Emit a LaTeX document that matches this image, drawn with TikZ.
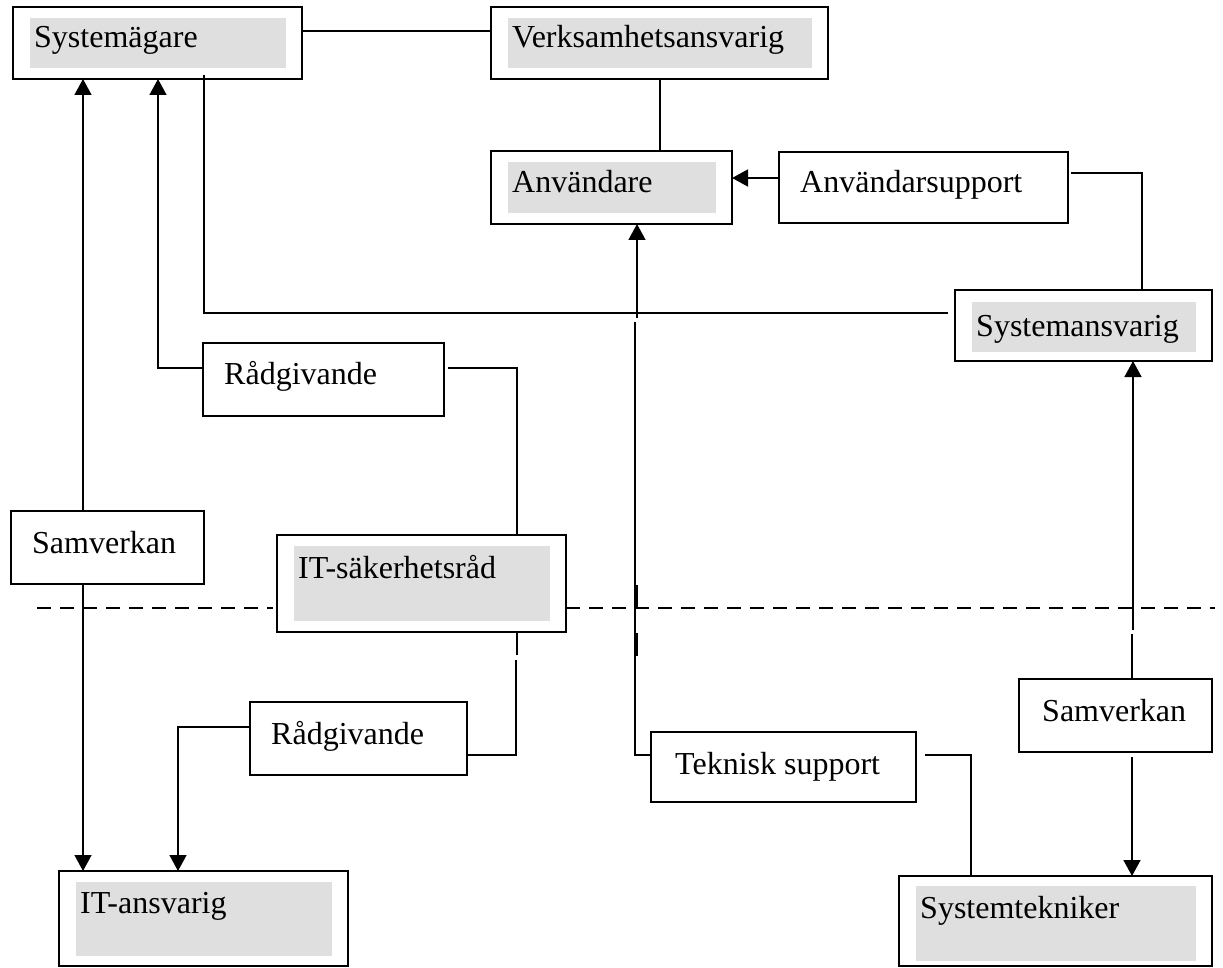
\documentclass[tikz,border=0pt]{standalone}
\usepackage{fontspec}
\setmainfont{Liberation Serif}
\usetikzlibrary{arrows.meta,calc}
\definecolor{boxgray}{HTML}{DFDFDF}
\begin{document}
\begin{tikzpicture}[x=1pt,y=-1pt,
  frame/.style={draw,line width=1.5pt,inner sep=0pt,outer sep=0pt,anchor=north west},
  lbl/.style={anchor=base west,inner sep=0pt,font=\fontsize{32}{38}\selectfont},
  conn/.style={line width=1.5pt},
  arr/.style={conn,-{Triangle[width=17pt,length=16pt]}},
  sepline/.style={line width=1.5pt,dash pattern=on 14pt off 9pt}]
\useasboundingbox (0,0) rectangle (1223,968);

% boxes
\node[frame,minimum width=289pt,minimum height=72pt] (sm)  at (13,7) {};
\node[frame,minimum width=337pt,minimum height=72pt] (va)  at (491,7) {};
\node[frame,minimum width=241pt,minimum height=73pt] (anv) at (491,151) {};
\node[frame,minimum width=289pt,minimum height=71pt] (as)  at (779,152) {};
\node[frame,minimum width=257pt,minimum height=71pt] (sa)  at (955,290) {};
\node[frame,minimum width=241pt,minimum height=73pt] (rg1) at (203,343) {};
\node[frame,minimum width=193pt,minimum height=73pt] (sv1) at (11,511) {};
\node[frame,minimum width=289pt,minimum height=97pt] (its) at (277,535) {};
\node[frame,minimum width=217pt,minimum height=73pt] (rg2) at (250,702) {};
\node[frame,minimum width=265pt,minimum height=70pt] (ts)  at (651,732) {};
\node[frame,minimum width=193pt,minimum height=73pt] (sv2) at (1019,679) {};
\node[frame,minimum width=289pt,minimum height=95pt] (ita) at (59,871) {};
\node[frame,minimum width=313pt,minimum height=90pt] (st)  at (899,876) {};

% gray shading
\fill[boxgray] (30,18) rectangle (286,68);
\fill[boxgray] (508,18) rectangle (812,68);
\fill[boxgray] (508,162) rectangle (716,213);
\fill[boxgray] (972,302) rectangle (1196,352);
\fill[boxgray] (294,546) rectangle (550,621);
\fill[boxgray] (76,882) rectangle (332,956);
\fill[boxgray] (916,886) rectangle (1196,961);

% labels
\node[lbl] (smt)  at (34,48)   {Systemägare};
\node[lbl] (vat)  at (512,48)  {Verksamhetsansvarig};
\node[lbl] (anvt) at (512,193) {Användare};
\node[lbl] (ast)  at (800,193) {Användarsupport};
\node[lbl] (sat)  at (976,336) {Systemansvarig};
\node[lbl] (rg1t) at (224,384) {Rådgivande};
\node[lbl] (sv1t) at (32,553)  {Samverkan};
\node[lbl] (itst) at (298,578) {IT-säkerhetsråd};
\node[lbl] (rg2t) at (271,744) {Rådgivande};
\node[lbl] (tst)  at (675,774) {Teknisk support};
\node[lbl] (sv2t) at (1042,721) {Samverkan};
\node[lbl] (itat) at (80,913)  {IT-ansvarig};
\node[lbl] (stt)  at (920,918) {Systemtekniker};

% helper coordinates
\coordinate (dl) at (37,608);
\coordinate (dr) at (1215,608);
\coordinate (g1) at (635,322);
\coordinate (g2) at (637,318);
\coordinate (g3) at (1132,634);
\coordinate (g4) at (1133,630);

% connectors
\draw[conn] ($(sm.north east)+(0,24)$) -- ($(va.north west)+(0,24)$);
\draw[conn] ($(va.south west)+(169,0)$) -- ($(anv.north west)+(169,0)$);
\draw[arr] ($(as.north west)+(0,26)$) -- ($(anv.north east)+(0,27)$);
\draw[conn] ($(as.north east)+(3,21)$) -| ($(sa.north west)+(187,0)$);
\draw[conn] ($(sm.south west)+(191,-4)$) |- ($(sa.north west)+(-7,23)$);
\draw[arr] ($(sv1.north west)+(72,0)$) -- ($(sm.south west)+(70,0)$);
\draw[arr] ($(sv1.south west)+(72,0)$) -- ($(ita.north west)+(24,0)$);
\draw[arr] ($(rg1.north west)+(0,25)$) -| ($(sm.south west)+(145,0)$);
\draw[conn] ($(rg1.north east)+(4,25)$) -| ($(its.north west)+(240,0)$);
\draw[conn] ($(its.south west)+(240,0)$) -- ++(0,23);
\draw[conn] ($(its.south west)+(239,28)$) |- ($(rg2.north east)+(0,53)$);
\draw[arr] ($(rg2.north west)+(0,25)$) -| ($(ita.north west)+(119,0)$);
\draw[conn] ($(ts.north west)+(0,23)$) -| (g1);
\draw[arr] (g2) -- ($(anv.south west)+(146,0)$);
\draw[line width=3pt] (636,585) -- (636,607);
\draw[line width=3pt] (636,633) -- (636,656);
\draw[conn] ($(ts.north east)+(9,23)$) -| ($(st.north west)+(72,0)$);
\draw[conn] ($(sv2.north west)+(113,0)$) -- (g3);
\draw[arr] (g4) -- ($(sa.south west)+(178,0)$);
\draw[arr] ($(sv2.south west)+(113,5)$) -- ($(st.north west)+(233,0)$);

% dashed separator
\draw[sepline] (dl) -- ($(its.south west)+(-4,-24)$);
\draw[sepline] ($(its.south east)+(0,-24)$) -- (dr);
\end{tikzpicture}
\end{document}
